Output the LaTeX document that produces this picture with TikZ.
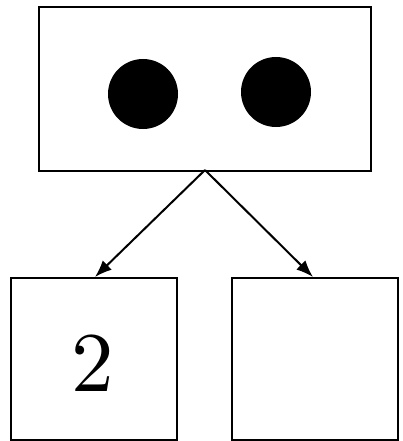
\documentclass[tikz,border=0pt]{standalone}
\usepackage{fontspec}
\newfontfamily\bigdigit{lmroman10-regular.otf}
\usetikzlibrary{arrows.meta}
\begin{document}
\begin{tikzpicture}[x=1pt,y=-1pt,
  box/.style={draw=black,line width=2.4pt,inner sep=0pt,anchor=north west},
  dot/.style={fill=black,circle,inner sep=0pt,minimum size=70pt},
  arr/.style={line width=2pt,-{Latex[length=17pt,width=13pt]}}]
\useasboundingbox (0,0) rectangle (403,441);
\node[box,minimum width=332pt,minimum height=164pt] (top) at (38,6) {};
\node[dot] (d1) at (143,94) {};
\node[dot] (d2) at (276,92) {};
\node[box,minimum width=166pt,minimum height=162pt] (left) at (10,277) {};
\node[box,minimum width=166pt,minimum height=162pt] (right) at (231,277) {};
\node (two) at (93,363) {\bigdigit\fontsize{85}{85}\selectfont 2};
\coordinate (src) at (205,170);
\draw[arr] (src) -- (left.north west -| 95,0);
\draw[arr] (src) -- (right.north west -| 313,0);
\end{tikzpicture}
\end{document}
